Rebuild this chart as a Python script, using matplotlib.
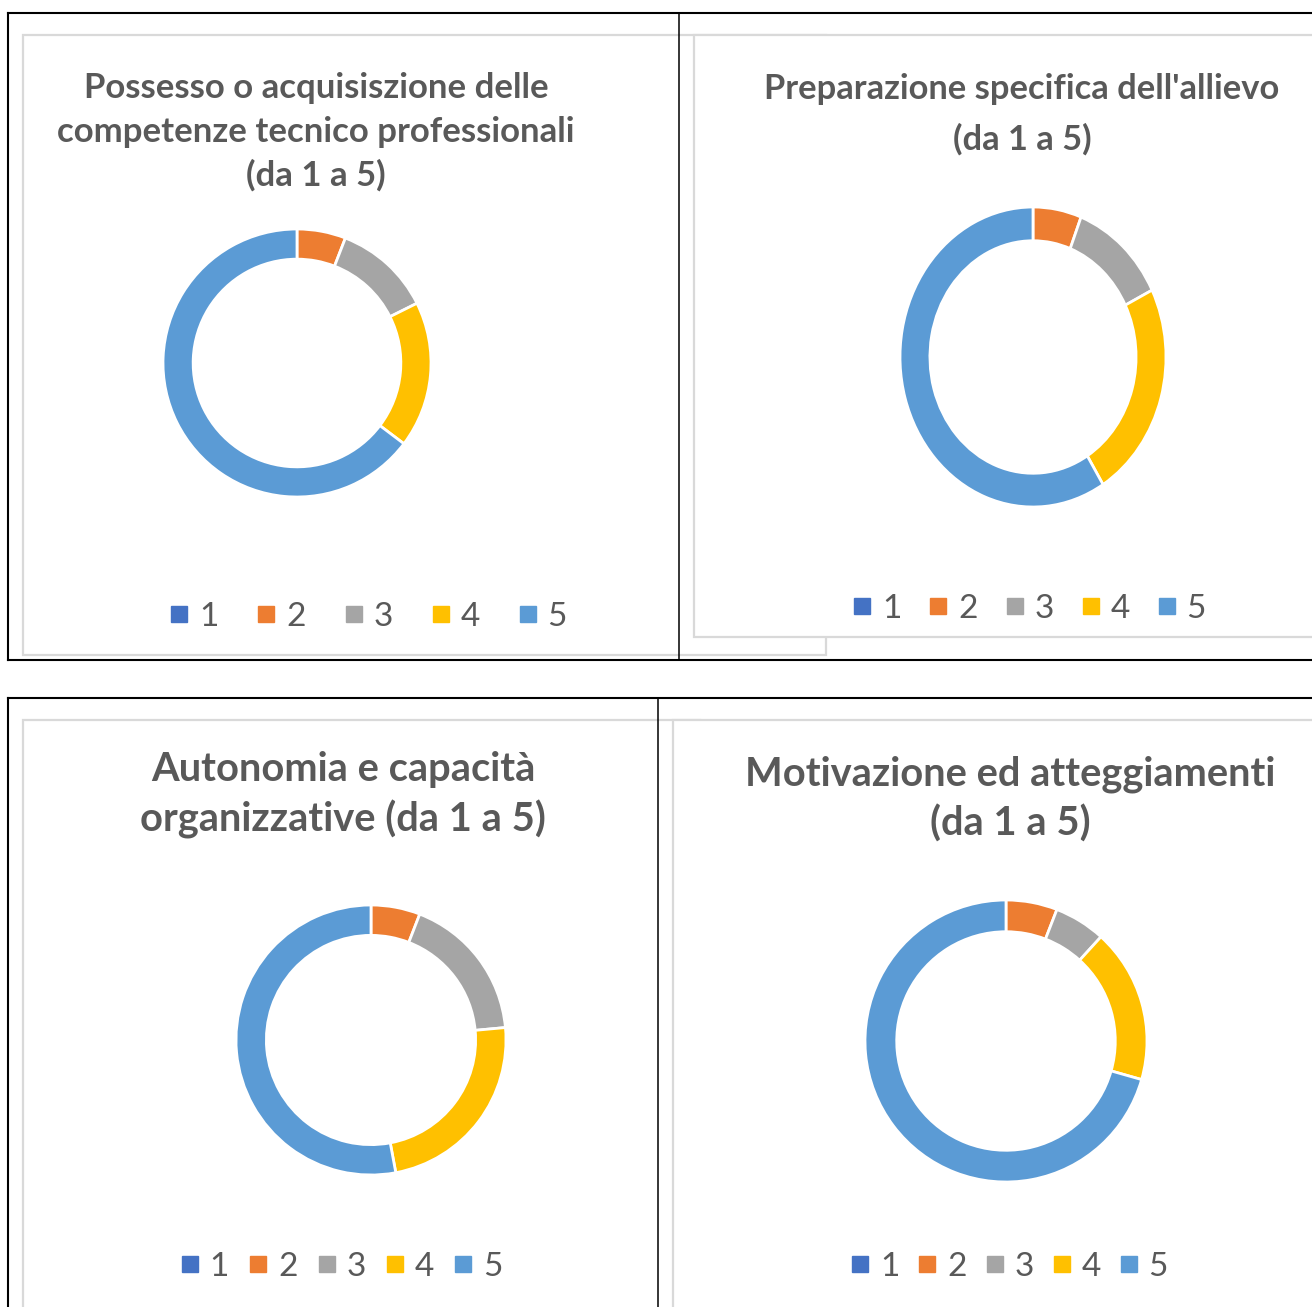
'''
Quattro grafici ad anello (valutazioni da 1 a 5) impaginati come nella tabella originale
'''

import matplotlib.pyplot as plt
from matplotlib.patches import Rectangle
from matplotlib.lines import Line2D

# dati

CATEGORIE = ['1', '2', '3', '4', '5']
COLORI = ['#4472C4', '#ED7D31', '#A5A5A5', '#FFC000', '#5B9BD5']

TITOLI = [
    'Possesso o acquisiszione delle\ncompetenze tecnico professionali\n(da 1 a 5)',
    "Preparazione specifica dell'allievo\n(da 1 a 5)",
    'Autonomia e capacità\norganizzative (da 1 a 5)',
    'Motivazione ed atteggiamenti\n(da 1 a 5)',
]

# numero di risposte per ciascun voto (1..5)
COMPETENZE = [0, 1, 2, 3, 11]
PREPARAZIONE = [0, 1, 2, 4, 10]
AUTONOMIA = [0, 1, 3, 4, 9]
MOTIVAZIONE = [0, 1, 1, 3, 12]

SERIE = [COMPETENZE, PREPARAZIONE, AUTONOMIA, MOTIVAZIONE]

# impaginazione (pixel)
W, H = 1312, 1307
GRIGIO_TESTO = '#595959'
GRIGIO_BORDO = '#D9D9D9'
FONT = 'Lato'

# centro x, centro y, raggio x, raggio y dell'anello
ANELLI = [(297, 363, 134, 134), (1033, 357, 133, 150),
          (371, 1040, 135, 135), (1006, 1041, 141, 141)]
# centro x, centro y, dimensione, interlinea del titolo
POS_TITOLI = [(316, 132, 25, 1.44), (1022, 114, 24.8, 1.68),
              (343, 795, 28.7, 1.36), (1010, 799, 28.7, 1.4)]
# centro x, centro y, spaziatura colonne della legenda
POS_LEGENDE = [(369, 617, 1.18), (1030, 609, 0.85),
               (342, 1267, 0.62), (1010, 1267, 0.58)]


def px_to_fig(x0, y0, x1, y1):
    return [x0 / W, 1 - y1 / H, (x1 - x0) / W, (y1 - y0) / H]


if __name__ == "__main__":
    fig = plt.figure(figsize=(W / 100, H / 100), dpi=100)

    # sfondo con bordi della tabella e delle aree grafico
    bg = fig.add_axes([0, 0, 1, 1])
    bg.set_xlim(0, W)
    bg.set_ylim(H, 0)
    bg.axis('off')

    for x0, y0, x1, y1 in [(23, 35, 826, 655), (694, 35, 1340, 637),
                           (23, 720, 700, 1340), (673, 720, 1340, 1340)]:
        bg.add_patch(Rectangle((x0, y0), x1 - x0, y1 - y0, facecolor='white',
                               edgecolor=GRIGIO_BORDO, linewidth=1.6))

    nero = dict(color='black', linewidth=1.5, solid_capstyle='projecting')
    bg.plot([8, W + 5], [13, 13], **nero)
    bg.plot([8, W + 5], [660, 660], **nero)
    bg.plot([8, 8], [13, 660], **nero)
    bg.plot([679, 679], [13, 660], color='black', linewidth=1.1)
    bg.plot([8, W + 5], [698, 698], **nero)
    bg.plot([8, 8], [698, H + 5], **nero)
    bg.plot([658, 658], [698, H + 5], color='black', linewidth=1.1)

    for valori, titolo, (cx, cy, rx, ry), (tx, ty, ts, tl), (lx, ly, lc) in zip(
            SERIE, TITOLI, ANELLI, POS_TITOLI, POS_LEGENDE):
        ax = fig.add_axes(px_to_fig(cx - rx, cy - ry, cx + rx, cy + ry))
        wedges, _ = ax.pie(valori, colors=COLORI, startangle=90, counterclock=False,
                           radius=1, wedgeprops=dict(width=0.225, edgecolor='white',
                                                     linewidth=2))
        for w in wedges:
            w.set_clip_on(False)
        ax.set_aspect('auto')
        ax.set_xlim(-1, 1)
        ax.set_ylim(-1, 1)
        ax.axis('off')

        bg.text(tx, ty, titolo, ha='center', va='center', multialignment='center',
                fontsize=ts, linespacing=tl, color=GRIGIO_TESTO, family=FONT,
                fontweight='bold')

        handles = [Line2D([], [], marker='s', linestyle='none', markersize=12,
                          markerfacecolor=c, markeredgecolor=c) for c in COLORI]
        ax.legend(handles, CATEGORIE, loc='center', ncol=5, frameon=False,
                  bbox_to_anchor=(lx / W, 1 - ly / H), bbox_transform=fig.transFigure,
                  prop=dict(family=FONT, size=24), labelcolor=GRIGIO_TESTO,
                  handlelength=0.5, handletextpad=0.35, columnspacing=lc,
                  borderpad=0, borderaxespad=0)

    fig.savefig('out.png', dpi=100)
